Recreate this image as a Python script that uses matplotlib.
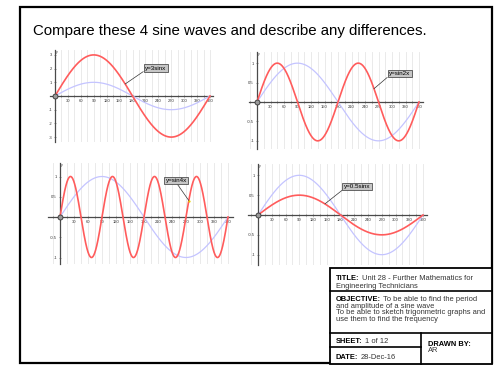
import numpy as np
import matplotlib
matplotlib.use('Agg')
import matplotlib.pyplot as plt
from matplotlib.ticker import MultipleLocator, FixedLocator
from matplotlib.patches import Rectangle
from matplotlib.lines import Line2D

plt.rcParams['font.family'] = ['Liberation Sans', 'DejaVu Sans']

# ---------------- data ----------------
curve_labels = ['y=3sinx', 'y=sin2x', 'y=sin4x', 'y=0.5sinx']
amplitudes = [3, 1, 1, 0.5]
frequencies = [1, 2, 4, 1]
reference_amplitude = 1
reference_frequency = 1
x_tick_values = [30, 60, 90, 120, 150, 180, 210, 240, 270, 300, 330, 360]
y_tick_values = [[-3, -2, -1, 1, 2, 3],
                 [-1, -0.5, 0.5, 1],
                 [-1, -0.5, 0.5, 1],
                 [-1, -0.5, 0.5, 1]]
y_tick_labels = [['-3', '-2', '-1', '1', '2', '3'],
                 ['-1', '-0.5', '0.5', '1'],
                 ['-1', '-0.5', '0.5', '1'],
                 ['-1', '-0.5', '0.5', '1']]
annotation_x = [163, 260, 276, 146]
y_grid_step = [1, 0.5, 0.5, 0.5]

title_text = 'Compare these 4 sine waves and describe any differences.'

# ---------------- layout ----------------
W, H = 500, 375
fig = plt.figure(figsize=(5, 3.75), dpi=100)

layouts = [
    dict(gx0=50, gx1=213, gy0=50, gy1=142, ox=55, x360=210, oy=96, ppu=13.7,
         text_px=(155.5, 68), relpos=(0, 0)),
    dict(gx0=249, gx1=423, gy0=52, gy1=149, ox=257, x360=419, oy=102, ppu=38.85,
         text_px=(399.5, 73.5), relpos=(0, 0)),
    dict(gx0=48, gx1=233, gy0=163, gy1=264, ox=60, x360=228, oy=217, ppu=40.5,
         text_px=(176.5, 180.5), relpos=(0.5, 0)),
    dict(gx0=248, gx1=427, gy0=164, gy1=265, ox=258, x360=423, oy=215, ppu=39.7,
         text_px=(357, 186.5), relpos=(0, 0)),
]

RED = '#ff5c5c'
BLUE = '#c4c4ff'
AXC = '#4a4a4a'

xs = np.linspace(0, 360, 1441)

for i, L in enumerate(layouts):
    ax = fig.add_axes([L['gx0'] / W, 1 - L['gy1'] / H,
                       (L['gx1'] - L['gx0']) / W, (L['gy1'] - L['gy0']) / H])
    ppd = (L['x360'] - L['ox']) / 360.0
    ax.set_xlim((L['gx0'] - L['ox']) / ppd, (L['gx1'] - L['ox']) / ppd)
    ax.set_ylim((L['oy'] - L['gy1']) / L['ppu'], (L['oy'] - L['gy0']) / L['ppu'])
    ax.set_facecolor('none')

    ax.xaxis.set_major_locator(FixedLocator(x_tick_values))
    ax.xaxis.set_minor_locator(MultipleLocator(15))
    ax.set_xticklabels([str(v) for v in x_tick_values])
    ax.yaxis.set_major_locator(FixedLocator(y_tick_values[i]))
    ax.set_yticklabels(y_tick_labels[i])

    # grid lines
    ax.grid(True, which='both', axis='x', color='#e6e6e6', lw=0.6, zorder=0)
    ax.yaxis.set_minor_locator(MultipleLocator(y_grid_step[i]))
    ax.grid(True, which='minor', axis='y', color='#e6e6e6', lw=0.6, zorder=0)
    ax.grid(False, which='major', axis='y')
    ax.set_axisbelow(True)

    for s in ['top', 'right']:
        ax.spines[s].set_visible(False)
    ax.spines['left'].set_position(('data', 0))
    ax.spines['bottom'].set_position(('data', 0))
    for s in ['left', 'bottom']:
        ax.spines[s].set_color(AXC)
        ax.spines[s].set_linewidth(0.9)

    ax.tick_params(which='both', labelsize=3, length=2, width=0.4, pad=1.2,
                   direction='inout', colors=AXC, labelcolor='#333333')
    ax.tick_params(axis='y', which='minor', length=0)

    rad = np.deg2rad(xs)
    ax.plot(xs, reference_amplitude * np.sin(reference_frequency * rad),
            color=BLUE, lw=0.9, zorder=3)
    ax.plot(xs, amplitudes[i] * np.sin(frequencies[i] * rad),
            color=RED, lw=1.2, zorder=4)

    ax.plot(0, 0, 'o', ms=3.6, mfc='#999999', mec='#333333', mew=0.6,
            zorder=6, clip_on=False)
    ax.text(3, ax.get_ylim()[1], 'y', fontsize=2.5, color='#333333',
            ha='left', va='top')

    tx = (L['text_px'][0] - L['ox']) / ppd
    ty = (L['oy'] - L['text_px'][1]) / L['ppu']
    axx = annotation_x[i]
    axy = amplitudes[i] * np.sin(frequencies[i] * np.deg2rad(axx))
    ax.annotate(curve_labels[i], xy=(axx, axy), xytext=(tx, ty),
                ha='center', va='center', fontsize=4.5, color='black', zorder=7,
                bbox=dict(boxstyle='square,pad=0.22', fc='#c6c6c6', ec='#333333', lw=0.5),
                arrowprops=dict(arrowstyle='-', color='#333333', lw=0.5,
                                relpos=L['relpos'], shrinkA=0, shrinkB=0))
    if i == 2:
        ax.plot(axx, axy, 'o', ms=1.6, mfc='#e6d200', mec='none', zorder=8)

# ---------------- frame and title ----------------
fig.add_artist(Rectangle((20 / W, 1 - 363 / H), 472 / W, 356 / H, transform=fig.transFigure,
                         fill=False, ec='black', lw=1.6, zorder=10))
fig.text(33 / W, 1 - 35 / H, title_text, fontsize=10.8, color='black',
         ha='left', va='baseline')

# ---------------- title block ----------------
fig.add_artist(Rectangle((330 / W, 1 - 364 / H), 162 / W, 96 / H, transform=fig.transFigure,
                         fc='white', ec='black', lw=1.3, zorder=11))

def hline(x0, x1, y):
    fig.add_artist(Line2D([x0 / W, x1 / W], [1 - y / H, 1 - y / H],
                          transform=fig.transFigure, color='black', lw=1.2, zorder=12))

def vline(x, y0, y1):
    fig.add_artist(Line2D([x / W, x / W], [1 - y0 / H, 1 - y1 / H],
                          transform=fig.transFigure, color='black', lw=1.2, zorder=12))

hline(330, 492, 291)
hline(330, 492, 332.5)
hline(330, 420.5, 347)
vline(420.5, 332.5, 364)

renderer = fig.canvas.get_renderer()
FS = 5.4

def mixed(x, y, bold, regular=''):
    t = fig.text(x / W, 1 - y / H, bold, fontsize=FS, fontweight='bold', color='black',
                 ha='left', va='baseline', zorder=13)
    if regular:
        bb = t.get_window_extent(renderer)
        gap = 0.278 * FS * 100 / 72
        fig.text((bb.x1 + gap) / W, 1 - y / H, regular, fontsize=FS, color='#333333',
                 ha='left', va='baseline', zorder=13)

def plain(x, y, s):
    fig.text(x / W, 1 - y / H, s, fontsize=FS, color='#333333',
             ha='left', va='baseline', zorder=13)

mixed(336, 280.5, 'TITLE:', 'Unit 28 - Further Mathematics for')
plain(336, 287.5, 'Engineering Technicians')
mixed(336, 301, 'OBJECTIVE:', 'To be able to find the period')
plain(336, 307.7, 'and amplitude of a sine wave')
plain(336, 314.4, 'To be able to sketch trigonmetric graphs and')
plain(336, 321.1, 'use them to find the frequency')
mixed(336, 342.7, 'SHEET:', '1 of 12')
mixed(336, 359, 'DATE:', '28-Dec-16')
mixed(428.3, 346, 'DRAWN BY:')
plain(428.3, 352.5, 'AR')

fig.savefig('out.png', dpi=100)
